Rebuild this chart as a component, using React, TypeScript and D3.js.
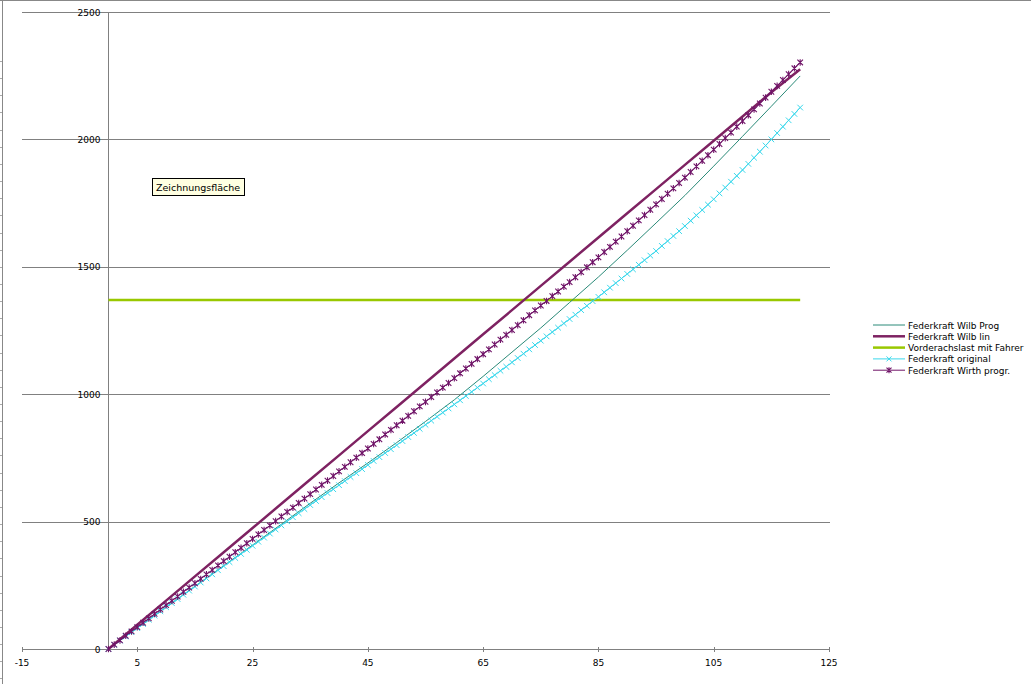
import React from 'react';
import * as d3 from 'd3';

// Federweg (mm) – Stützstellen
const xSteps5 = [0, 5, 10, 15, 20, 25, 30, 35, 40, 45, 50, 55, 60, 65, 70, 75, 80, 85, 90, 95, 100, 105, 110, 115, 120];
const xSteps1 = d3.range(0, 121);

// Federkraft Wilb Prog (dünne Linie, ohne Marker)
const wilbProg = [0, 82, 164, 246, 327, 408, 490, 572, 652, 730, 810, 893, 978, 1070, 1165, 1260, 1360, 1460, 1565, 1672, 1780, 1895, 2012, 2130, 2249];

// Federkraft Wilb lin
const wilbLin = [0, 95, 190, 285, 380, 475, 570, 665, 760, 855, 950, 1045, 1140, 1235, 1330, 1425, 1520, 1615, 1710, 1805, 1900, 1995, 2090, 2185, 2275];

// Vorderachslast mit Fahrer
const vorderachslast = [1370, 1370];
const vorderachslastX = [0, 120];

// Federkraft original (x-Marker)
const original = [
  0, 16, 33, 49, 66, 82, 98, 115, 131, 148, 164,
  180, 196, 213, 229, 245, 261, 277, 293, 309, 325,
  341, 357, 373, 389, 405, 421, 437, 453, 469, 485,
  501, 517, 533, 549, 565, 581, 596, 612, 627, 643,
  659, 675, 690, 706, 722, 738, 753, 769, 784, 800,
  816, 832, 848, 864, 880, 896, 912, 928, 944, 960,
  976, 993, 1009, 1026, 1042, 1059, 1075, 1092, 1108, 1125,
  1142, 1159, 1176, 1193, 1210, 1227, 1244, 1261, 1278, 1295,
  1312, 1330, 1347, 1365, 1382, 1400, 1418, 1436, 1454, 1472,
  1490, 1508, 1526, 1544, 1562, 1582, 1601, 1621, 1640, 1660,
  1681, 1702, 1723, 1744, 1765, 1788, 1811, 1834, 1857, 1880,
  1904, 1928, 1952, 1976, 2000, 2025, 2050, 2075, 2100, 2125,
];

// Federkraft Wirth progr. (Stern-Marker)
const wirth = [
  0, 17, 34, 52, 69, 86, 103, 120, 138, 155, 172,
  189, 206, 224, 241, 258, 275, 293, 310, 328, 345,
  362, 380, 397, 415, 432, 450, 467, 485, 502, 520,
  538, 555, 573, 590, 608, 626, 644, 661, 679, 697,
  715, 733, 751, 769, 787, 805, 823, 842, 860, 878,
  896, 915, 933, 952, 970, 989, 1007, 1026, 1044, 1063,
  1082, 1101, 1119, 1138, 1157, 1176, 1195, 1214, 1233, 1252,
  1271, 1290, 1310, 1329, 1348, 1366, 1385, 1403, 1422, 1440,
  1459, 1479, 1498, 1518, 1537, 1558, 1578, 1599, 1619, 1640,
  1661, 1682, 1703, 1724, 1745, 1766, 1787, 1808, 1829, 1850,
  1872, 1894, 1916, 1938, 1960, 1982, 2005, 2027, 2050, 2072,
  2095, 2118, 2141, 2164, 2187, 2210, 2233, 2256, 2279, 2302,
];

const xTicks = [-15, 5, 25, 45, 65, 85, 105, 125];
const yTicks = [0, 500, 1000, 1500, 2000, 2500];

const seriesNames = ['Federkraft Wilb Prog', 'Federkraft Wilb lin', 'Vorderachslast mit Fahrer', 'Federkraft original', 'Federkraft Wirth progr.'];
const colors = ['#2a8a78', '#7e2262', '#99c800', '#3ad8ec', '#701468'];

const W = 1031;
const H = 684;
const font = '"DejaVu Sans", Verdana, sans-serif';

const App: React.FC = () => {
  const x = d3.scaleLinear().domain([-15, 125]).range([22, 829]);
  const y = d3.scaleLinear().domain([0, 2500]).range([649, 12]);

  const line = d3.line<[number, number]>().x(d => x(d[0])).y(d => y(d[1]));
  const zip = (xs: number[], ys: number[]) => xs.map((v, i) => [v, ys[i]] as [number, number]);

  const progPts = zip(xSteps5, wilbProg);
  const linPts = zip(xSteps5, wilbLin);
  const vaPts = zip(vorderachslastX, vorderachslast);
  const origPts = zip(xSteps1, original);
  const wirthPts = zip(xSteps1, wirth);

  const xMark = (cx: number, cy: number, r: number, c: string, key: string) => (
    <path key={key} d={`M${cx - r},${cy - r}L${cx + r},${cy + r}M${cx - r},${cy + r}L${cx + r},${cy - r}`} stroke={c} strokeWidth={1} fill="none" />
  );
  const starMark = (cx: number, cy: number, r: number, c: string, key: string) => (
    <path key={key} d={`M${cx - r},${cy - r}L${cx + r},${cy + r}M${cx - r},${cy + r}L${cx + r},${cy - r}M${cx},${cy - r - 0.5}L${cx},${cy + r + 0.5}`} stroke={c} strokeWidth={1.1} fill="none" />
  );

  // Zeilenraster am linken Rand (Tabellenblatt)
  const rowTicks = d3.range(61, H, 17.15);

  const legendX = 873;
  const legendY0 = 325;
  const legendDy = 11.3;

  return (
    <svg width={W} height={H} style={{ position: 'fixed', left: 0, top: 0, background: '#fff' }}>
      <rect x={0} y={0} width={W} height={H} fill="#fff" />
      {/* Blattrand */}
      <line x1={0} x2={W} y1={0.5} y2={0.5} stroke="#888" />
      <line x1={2.5} x2={2.5} y1={0} y2={H} stroke="#888" />
      {rowTicks.map((t, i) => (
        <line key={'r' + i} x1={0} x2={2} y1={Math.round(t) + 0.5} y2={Math.round(t) + 0.5} stroke="#aaa" />
      ))}

      {/* Gitternetz */}
      {yTicks.map(t => (
        <line key={'g' + t} x1={x(-15)} x2={x(125) + 1} y1={Math.round(y(t)) + 0.5} y2={Math.round(y(t)) + 0.5} stroke="#808080" strokeWidth={1} />
      ))}
      {/* Y-Achse bei x = 0 */}
      <line x1={Math.round(x(0)) + 0.5} x2={Math.round(x(0)) + 0.5} y1={y(2500)} y2={y(0)} stroke="#808080" />
      {yTicks.map(t => (
        <text key={'yl' + t} x={x(0) - 8} y={y(t) + 3.5} textAnchor="end" fontFamily={font} fontSize={9} fill="#000">{t}</text>
      ))}
      {/* X-Achse */}
      {xTicks.map(t => (
        <line key={'xt' + t} x1={Math.round(x(t)) + 0.5} x2={Math.round(x(t)) + 0.5} y1={y(0) - 2} y2={y(0) + 3} stroke="#808080" />
      ))}
      {xTicks.map(t => (
        <text key={'xl' + t} x={x(t)} y={y(0) + 17} textAnchor="middle" fontFamily={font} fontSize={9} fill="#000">{t}</text>
      ))}

      {/* Reihen */}
      <path d={line(vaPts) || ''} stroke={colors[2]} strokeWidth={2.5} fill="none" />
      <path d={line(progPts) || ''} stroke={colors[0]} strokeWidth={1} fill="none" />
      <path d={line(origPts) || ''} stroke={colors[3]} strokeWidth={1} fill="none" />
      {origPts.map((p, i) => xMark(x(p[0]), y(p[1]), 2.8, colors[3], 'o' + i))}
      <path d={line(linPts) || ''} stroke={colors[1]} strokeWidth={2.5} fill="none" />
      <path d={line(wirthPts) || ''} stroke={colors[4]} strokeWidth={1} fill="none" />
      {wirthPts.map((p, i) => starMark(x(p[0]), y(p[1]), 2.8, colors[4], 'w' + i))}

      {/* Legende */}
      {seriesNames.map((n, i) => {
        const ly = legendY0 + i * legendDy;
        const sw = i === 1 || i === 2 ? 2.5 : 1;
        return (
          <g key={'lg' + i}>
            <line x1={legendX} x2={legendX + 32} y1={ly} y2={ly} stroke={colors[i]} strokeWidth={sw} />
            {i === 3 && xMark(legendX + 16, ly, 2.5, colors[i], 'lm3')}
            {i === 4 && starMark(legendX + 16, ly, 2.5, colors[i], 'lm4')}
            <text x={legendX + 35} y={ly + 3.5} fontFamily={font} fontSize={9} fill="#000">{n}</text>
          </g>
        );
      })}

      {/* Tooltip */}
      <rect x={152.5} y={178.5} width={92} height={17} fill="#ffffe1" stroke="#000" />
      <text x={156} y={191} fontFamily={font} fontSize={9.5} fill="#000">Zeichnungsfläche</text>
    </svg>
  );
};

export default App;
